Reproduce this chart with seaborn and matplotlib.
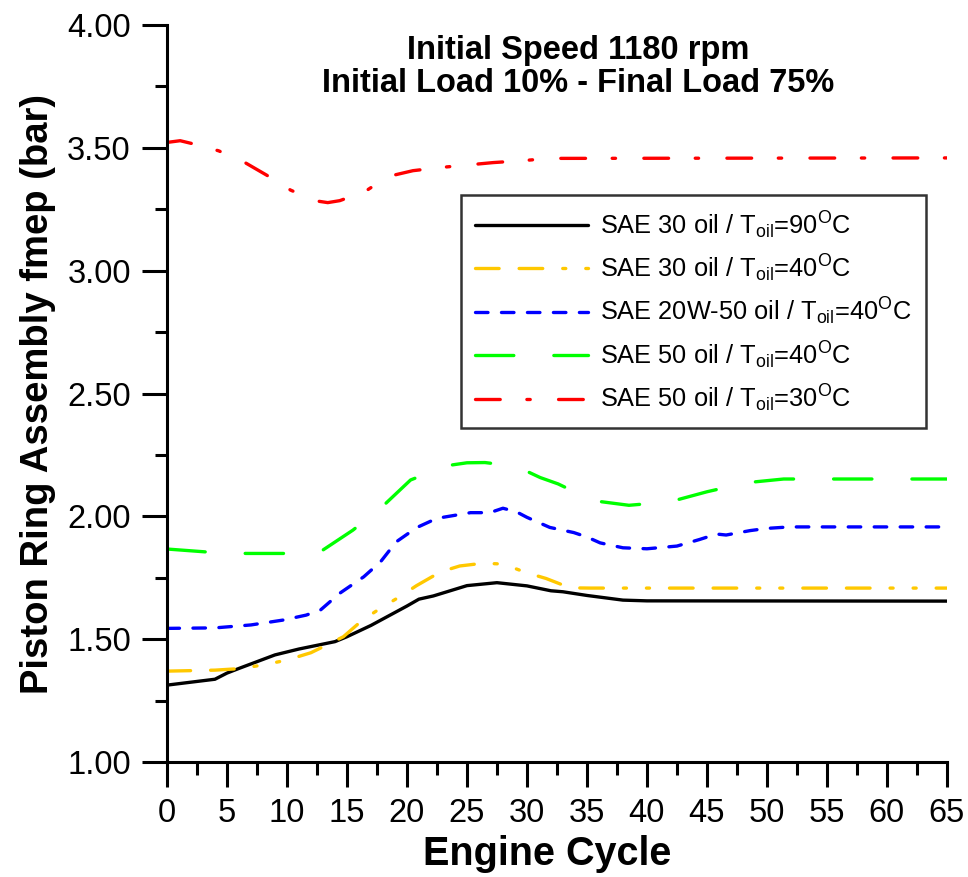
"""
plot.py
-------
Piston ring assembly fmep vs engine cycle for several oils / oil temperatures.
Output: out.png
"""

import pandas as pd
import matplotlib
matplotlib.use("Agg")
import matplotlib.pyplot as plt
from matplotlib.ticker import MultipleLocator, FormatStrFormatter
import seaborn as sns

# ---------------------------------------------------------------------------
# Data
# ---------------------------------------------------------------------------

labels = [
    r"SAE 30 oil / T$_{\mathrm{oil}}$=90$^{\mathrm{O}}$C",
    r"SAE 30 oil / T$_{\mathrm{oil}}$=40$^{\mathrm{O}}$C",
    r"SAE 20W-50 oil / T$_{\mathrm{oil}}$=40$^{\mathrm{O}}$C",
    r"SAE 50 oil / T$_{\mathrm{oil}}$=40$^{\mathrm{O}}$C",
    r"SAE 50 oil / T$_{\mathrm{oil}}$=30$^{\mathrm{O}}$C",
]

sae30_90_x = [0, 4, 5, 6, 9, 11, 14, 15, 17, 20, 21, 22.2, 25, 27.5, 30, 32, 33, 35, 38, 40, 65]
sae30_90_y = [1.313, 1.337, 1.362, 1.381, 1.436, 1.46, 1.49, 1.51, 1.556, 1.635, 1.663, 1.676,
              1.718, 1.730, 1.717, 1.697, 1.693, 1.678, 1.659, 1.656, 1.655]

sae30_40_x = [0, 4, 6, 8, 10, 12, 13.3, 14.7, 16.3, 17.8, 19.4, 20.8, 22.8, 24.4, 26.3, 28,
              30, 31.6, 33.6, 35.3, 65]
sae30_40_y = [1.37, 1.374, 1.38, 1.395, 1.415, 1.445, 1.476, 1.51, 1.578, 1.626, 1.673, 1.718,
              1.774, 1.798, 1.809, 1.806, 1.77, 1.747, 1.709, 1.708, 1.708]

sae2050_40_x = [0, 4, 7, 9.7, 11.6, 12.8, 14.4, 16.4, 17.8, 19.1, 20.8, 22.5, 23.6, 25.3, 26.9,
                28, 29.1, 30, 31.9, 33.9, 35, 36.1, 38, 40, 42.5, 44.4, 45.8, 46.6, 48.6, 50,
                51.9, 65]
sae2050_40_y = [1.544, 1.546, 1.558, 1.578, 1.598, 1.619, 1.687, 1.754, 1.815, 1.896, 1.954,
                1.992, 2.001, 2.015, 2.015, 2.033, 2.019, 1.996, 1.955, 1.934, 1.916, 1.892,
                1.872, 1.868, 1.879, 1.906, 1.928, 1.924, 1.942, 1.951, 1.957, 1.957]

sae50_40_x = [0, 3.3, 6.6, 9.7, 13, 15.5, 18, 20.3, 23.3, 25, 26.5, 28, 29.7, 31.1, 32.6, 35.5,
              38.5, 41.9, 45, 48.3, 51.4, 65]
sae50_40_y = [1.867, 1.855, 1.849, 1.849, 1.863, 1.944, 2.042, 2.148, 2.206, 2.218, 2.219, 2.21,
              2.19, 2.158, 2.132, 2.064, 2.045, 2.059, 2.1, 2.137, 2.152, 2.152]

sae50_30_x = [0, 1.1, 2.2, 4.3, 6.5, 8.3, 10.3, 12.3, 13.4, 14.4, 16.5, 18.4, 20.5, 22.8, 27.2,
              29.7, 31.8, 65]
sae50_30_y = [3.522, 3.529, 3.516, 3.488, 3.44, 3.389, 3.328, 3.285, 3.277, 3.285, 3.322, 3.383,
              3.407, 3.42, 3.44, 3.448, 3.457, 3.459]

series_x = [sae30_90_x, sae30_40_x, sae2050_40_x, sae50_40_x, sae50_30_x]
series_y = [sae30_90_y, sae30_40_y, sae2050_40_y, sae50_40_y, sae50_30_y]

# ---------------------------------------------------------------------------
# Style
# ---------------------------------------------------------------------------

COLORS = ["#000000", "#FFC800", "#0000FF", "#00FF00", "#FF0000"]
# dash patterns in points (scale_dashes off)
STYLES = [
    "-",
    (0, (17, 14.4, 17, 14.4, 2.2, 14.4, 2.2, 14.4)),
    (0, (9, 9.7)),
    (0, (27.6, 28.8)),
    (0, (17.8, 19.2, 2.4, 20.4)),
]
LW = 2.4

sns.set_style("ticks")
plt.rcParams["font.family"] = ["Liberation Sans", "DejaVu Sans"]
plt.rcParams["mathtext.fontset"] = "custom"
plt.rcParams["mathtext.rm"] = "Liberation Sans"
plt.rcParams["lines.scale_dashes"] = False
for key in ["text.color", "axes.labelcolor", "xtick.color", "ytick.color", "axes.edgecolor"]:
    plt.rcParams[key] = "black"

fig = plt.figure(figsize=(9.68, 8.77), dpi=100)
ax = fig.add_axes([0.1725, 0.1311, 0.8057, 0.8404])

for xs, ys, lab, col, ls in zip(series_x, series_y, labels, COLORS, STYLES):
    df = pd.DataFrame({"cycle": xs, "fmep": ys})
    sns.lineplot(data=df, x="cycle", y="fmep", ax=ax, color=col, lw=LW,
                 linestyle=ls, label=lab, dash_capstyle="round",
                 solid_capstyle="round")

ax.set_xlim(0, 65)
ax.set_ylim(1.0, 4.0)
ax.xaxis.set_major_locator(MultipleLocator(5))
ax.xaxis.set_minor_locator(MultipleLocator(2.5))
ax.yaxis.set_major_locator(MultipleLocator(0.5))
ax.yaxis.set_minor_locator(MultipleLocator(0.25))
ax.yaxis.set_major_formatter(FormatStrFormatter("%.2f"))

sns.despine(ax=ax)
for side in ["left", "bottom"]:
    ax.spines[side].set_linewidth(2.2)
ax.tick_params(which="major", length=18, width=2.2, labelsize=23.5, pad=8, direction="out")
ax.tick_params(which="minor", length=9, width=2.2, direction="out")

ax.set_xlabel("Engine Cycle", fontsize=28.5, fontweight="bold", labelpad=4)
ax.xaxis.label.set_x(0.488)
ax.set_ylabel("Piston Ring Assembly fmep (bar)", fontsize=27.5, fontweight="bold", labelpad=8)

ax.text(0.527, 0.987, "Initial Speed 1180 rpm\nInitial Load 10% - Final Load 75%",
        transform=ax.transAxes, ha="center", va="top", fontsize=23.5,
        fontweight="bold", linespacing=1.1)

leg = ax.legend(loc="upper right", bbox_to_anchor=(0.973, 0.769), borderaxespad=0,
                fontsize=18.3, handlelength=4.43, handletextpad=0.5, labelspacing=0.47,
                fancybox=False, frameon=True, borderpad=0.55)
leg.get_frame().set_edgecolor("black")
leg.get_frame().set_linewidth(1.8)

fig.savefig("out.png", dpi=100)
